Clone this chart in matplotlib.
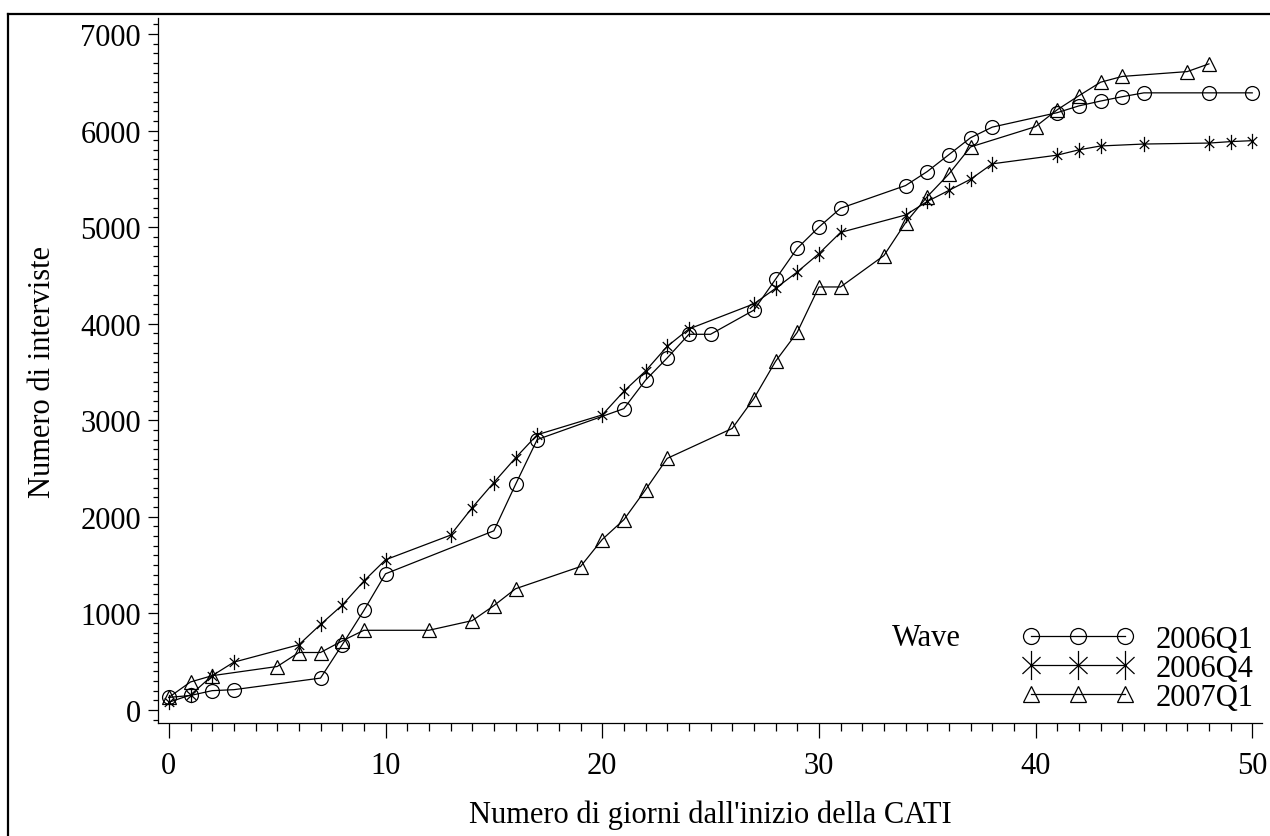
import matplotlib
matplotlib.use("Agg")
import matplotlib.pyplot as plt
from matplotlib.lines import Line2D
from matplotlib.path import Path
from matplotlib.ticker import MultipleLocator

plt.rcParams['font.family'] = ['Liberation Serif', 'DejaVu Serif']

# 2006Q1
days_q1 = [0, 1, 2, 3, 7, 8, 9, 10, 15, 16, 17, 21, 22, 23, 24, 25, 27, 28, 29,
           30, 31, 34, 35, 36, 37, 38, 41, 42, 43, 44, 45, 48, 50]
vals_q1 = [130, 150, 200, 210, 330, 675, 1030, 1410, 1855, 2335, 2800, 3120, 3415, 3645, 3890, 3890, 4140, 4460, 4780,
           5000, 5195, 5430, 5575, 5750, 5925, 6035, 6185, 6255, 6305, 6350, 6390, 6390, 6390]
# 2006Q4
days_q4 = [0, 1, 2, 3, 6, 7, 8, 9, 10, 13, 14, 15, 16, 17, 20, 21, 22, 23, 24, 27,
           28, 29, 30, 31, 34, 35, 36, 37, 38, 41, 42, 43, 45, 48, 49, 50]
vals_q4 = [80, 155, 355, 495, 675, 885, 1085, 1335, 1555, 1810, 2095, 2355, 2610, 2850, 3055, 3300, 3510, 3765, 3945, 4205,
           4365, 4535, 4725, 4945, 5125, 5265, 5380, 5495, 5655, 5745, 5800, 5840, 5860, 5870, 5885, 5895]
# 2007Q1
days_07 = [0, 1, 2, 5, 6, 7, 8, 9, 12, 14, 15, 16, 19, 20, 21, 22, 23, 26, 27, 28,
           29, 30, 31, 33, 34, 35, 36, 37, 40, 41, 42, 43, 44, 47, 48]
vals_07 = [130, 290, 355, 450, 595, 595, 715, 825, 825, 925, 1080, 1255, 1485, 1765, 1970, 2280, 2605, 2915, 3225, 3610,
           3910, 4380, 4380, 4705, 5045, 5315, 5550, 5830, 6040, 6215, 6360, 6500, 6560, 6610, 6690]

waves = ['2006Q1', '2006Q4', '2007Q1']
FS = 22

# SAS-like star: vertical stroke plus an X
star = Path([(0, -1), (0, 1), (-0.62, -0.58), (0.62, 0.58), (-0.62, 0.58), (0.62, -0.58)],
            [Path.MOVETO, Path.LINETO, Path.MOVETO, Path.LINETO, Path.MOVETO, Path.LINETO])

fig = plt.figure(figsize=(12.70, 8.37), dpi=100)
ax = fig.add_axes([158 / 1270, 113 / 837, 1104 / 1270, 705 / 837])

ax.plot(days_q1, vals_q1, color='black', lw=0.9, marker='o', ms=10, mfc='none', mec='black', mew=0.9)
ax.plot(days_q4, vals_q4, color='black', lw=0.9, marker=star, ms=11, mec='black', mew=0.9)
ax.plot(days_07, vals_07, color='black', lw=0.9, marker='^', ms=9.5, mfc='none', mec='black', mew=0.9)

ax.set_xlim(-0.5, 50.45)
ax.set_ylim(-135, 7165)
ax.spines['top'].set_visible(False)
ax.spines['right'].set_visible(False)
for s in ['left', 'bottom']:
    ax.spines[s].set_linewidth(0.9)

ax.xaxis.set_major_locator(MultipleLocator(10))
ax.xaxis.set_minor_locator(MultipleLocator(1))
ax.yaxis.set_major_locator(MultipleLocator(1000))
ax.yaxis.set_minor_locator(MultipleLocator(100))
ax.tick_params(axis='x', which='major', length=11, width=0.9, pad=9, labelsize=FS)
ax.tick_params(axis='x', which='minor', length=5.8, width=0.9)
ax.tick_params(axis='y', which='major', length=7.2, width=0.9, pad=5, labelsize=FS)
ax.tick_params(axis='y', which='minor', length=3.6, width=0.9)

ax.set_xlabel("Numero di giorni dall'inizio della CATI", fontsize=FS, labelpad=14)
ax.set_ylabel("Numero di interviste", fontsize=FS, labelpad=17)

handles = [
    Line2D([], [], color='black', lw=0.9, marker='o', ms=11.5, mfc='none', mec='black', mew=0.9),
    Line2D([], [], color='black', lw=0.9, marker=star, ms=21, mec='black', mew=0.9),
    Line2D([], [], color='black', lw=0.9, marker='^', ms=11, mfc='none', mec='black', mew=0.9),
]
fig.legend(handles, waves, loc='upper left', bbox_to_anchor=(1022 / 1270, 1 - 626 / 837),
           frameon=False, numpoints=3, handlelength=112 / 30.6, handletextpad=0.7,
           labelspacing=0.0, borderpad=0, borderaxespad=0, fontsize=FS)
fig.text(892 / 1270, 1 - 638 / 837, 'Wave', fontsize=FS, va='center', ha='left')

# page frame: left and top edges
fig.add_artist(Line2D([8 / 1270, 8 / 1270], [0, 1 - 15 / 837], color='black', lw=1.6,
                      transform=fig.transFigure))
fig.add_artist(Line2D([8 / 1270, 1], [1 - 15 / 837, 1 - 15 / 837], color='black', lw=1.6,
                      transform=fig.transFigure))

fig.savefig('out.png', dpi=100)
